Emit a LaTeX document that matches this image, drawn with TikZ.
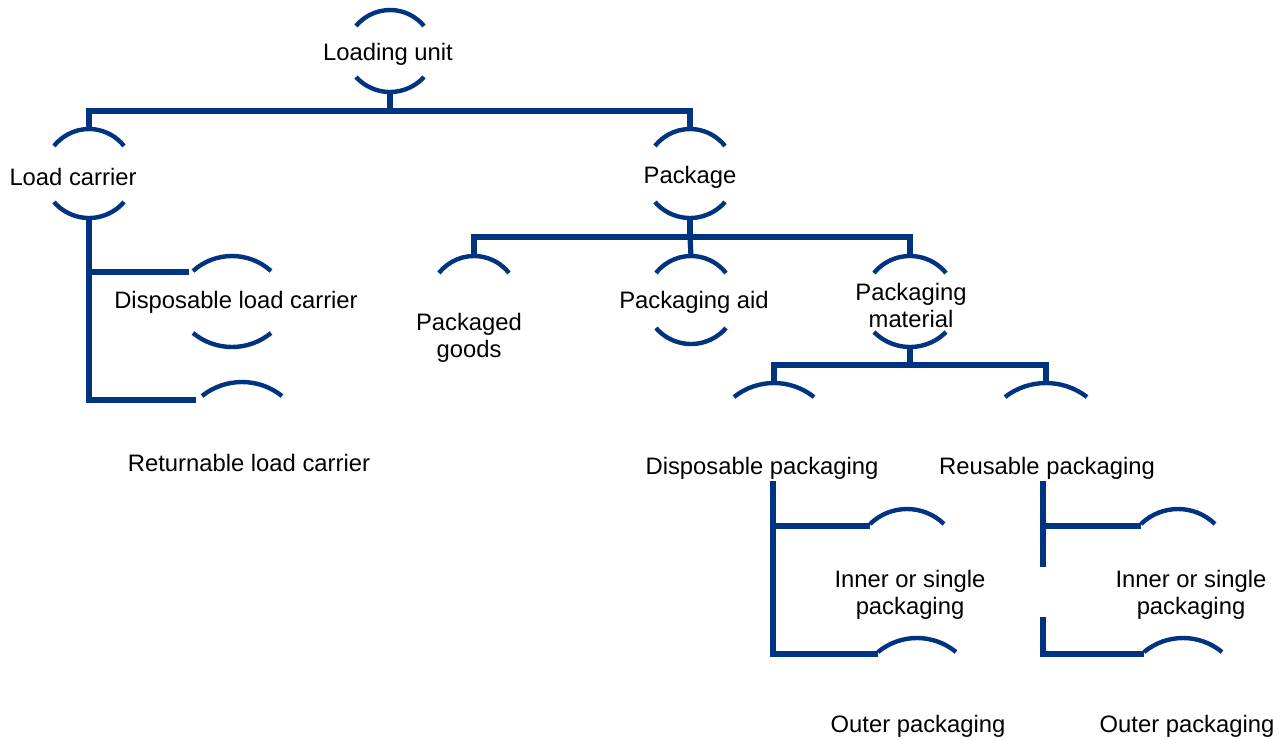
\documentclass[tikz,border=0pt]{standalone}
\usepackage{fontspec}
\setmainfont{Liberation Sans}
\definecolor{navy}{RGB}{0,51,128}
\newcommand\MyTopArc[4]{%
  \pgfmathsetmacro\myR{(#3*#3+#4*#4)/(2*#4)}%
  \pgfmathsetmacro\myA{asin(#3/\myR)}%
  \draw[arcline] (#1-#3,#2+#4) arc[start angle=90+\myA,end angle=90-\myA,radius=\myR*0.5pt];}
\newcommand\MyBotArc[4]{%
  \pgfmathsetmacro\myR{(#3*#3+#4*#4)/(2*#4)}%
  \pgfmathsetmacro\myA{asin(#3/\myR)}%
  \draw[arcline] (#1-#3,#2-#4) arc[start angle=270-\myA,end angle=270+\myA,radius=\myR*0.5pt];}
\begin{document}
\begin{tikzpicture}[x=0.5pt,y=-0.5pt,
  conn/.style={draw=navy,line width=2.6pt,line join=miter},
  arcline/.style={draw=navy,line width=2.2pt},
  lbl/.style={inner sep=0pt,font=\fontsize{11.9}{13.5}\selectfont,align=center,text=black}]
\useasboundingbox (0,0) rectangle (1284,739);

% ---------- text nodes ----------
\node[lbl] (lu)  at (388,54)  {Loading unit};
\node[lbl] (lc)  at (73,177)  {Load carrier};
\node[lbl] (pk)  at (690,177) {Package};
\node[lbl] (dlc) at (236,302) {Disposable load carrier};
\node[lbl] (rlc) at (249,463) {Returnable load carrier};
\node[lbl] (pg)  at (469,338) {Packaged\\goods};
\node[lbl] (pa)  at (694,302) {Packaging aid};
\node[lbl] (pm)  at (911,305) {Packaging\\material};
\node[lbl] (dp)  at (762,468) {Disposable packaging};
\node[lbl] (rp)  at (1047,468) {Reusable packaging};
\node[lbl] (ip1) at (910,595) {Inner or single\\packaging};
\node[lbl] (op1) at (918,726) {Outer packaging};
\node[lbl] (ip2) at (1191,595) {Inner or single\\packaging};
\node[lbl] (op2) at (1187,726) {Outer packaging};

% ---------- arcs ----------
\MyTopArc{390}{10}{34}{16}  \MyBotArc{390}{92}{34}{15}
\MyTopArc{89}{129}{35}{17}  \MyBotArc{89}{218}{35}{16}
\MyTopArc{690}{129}{35}{17} \MyBotArc{690}{218}{35}{16}
\MyTopArc{232}{256}{39}{15} \MyBotArc{232}{347}{39}{14}
\MyTopArc{242}{382}{40}{14}
\MyTopArc{474}{256}{35}{17}
\MyTopArc{691}{256}{35}{17} \MyBotArc{691}{344}{35}{16}
\MyTopArc{910}{256}{36}{17} \MyBotArc{910}{347}{36}{15}
\MyTopArc{774}{383}{40}{14}
\MyTopArc{1046}{383}{41}{14}
\MyTopArc{907}{509}{37}{15}
\MyTopArc{917}{638}{39}{14}
\MyTopArc{1178}{509}{37}{15}
\MyTopArc{1183}{638}{39}{14}

% ---------- connector coordinates ----------
\coordinate (luS) at (390,92);   \coordinate (luJ) at (390,111);
\coordinate (lcT) at (89,129);   \coordinate (pkT) at (690,129);
\coordinate (lcS) at (89,218);   \coordinate (lcE) at (89,400);
\coordinate (dlcJ) at (189,272); \coordinate (rlcJ) at (196,400);
\coordinate (pkS) at (690,218);  \coordinate (pkJ) at (690,237);
\coordinate (pgT) at (474,256);  \coordinate (paT) at (691,256);
\coordinate (pmT) at (910,256);
\coordinate (pmS) at (910,347);  \coordinate (pmJ) at (910,365);
\coordinate (dpT) at (774,383);  \coordinate (rpT) at (1046,383);
\coordinate (dvS) at (773,481);  \coordinate (dvE) at (773,654);
\coordinate (ip1J) at (870,526); \coordinate (op1J) at (878,654);
\coordinate (rvS) at (1043,481); \coordinate (rvG1) at (1043,567);
\coordinate (rvG2) at (1043,617); \coordinate (rvE) at (1043,654);
\coordinate (ip2J) at (1141,526); \coordinate (op2J) at (1144,654);

% ---------- connectors ----------
\draw[conn] (luS) -- (luJ);
\draw[conn] (lcT) |- (luJ) -| (pkT);
\draw[conn] (lcS) -- (lcE) -- (rlcJ);
\draw[conn] (lcS |- dlcJ) -- (dlcJ);
\draw[conn] (pkS) -- (pkJ);
\draw[conn] (pgT) |- (pkJ) -| (pmT);
\draw[conn] (pkJ) -- (paT);
\draw[conn] (pmS) -- (pmJ);
\draw[conn] (dpT) |- (pmJ) -| (rpT);
\draw[conn] (dvS) -- (dvE) -- (op1J);
\draw[conn] (dvS |- ip1J) -- (ip1J);
\draw[conn] (rvS) -- (rvG1);
\draw[conn] (rvG2) -- (rvE) -- (op2J);
\draw[conn] (rvS |- ip2J) -- (ip2J);
\end{tikzpicture}
\end{document}
